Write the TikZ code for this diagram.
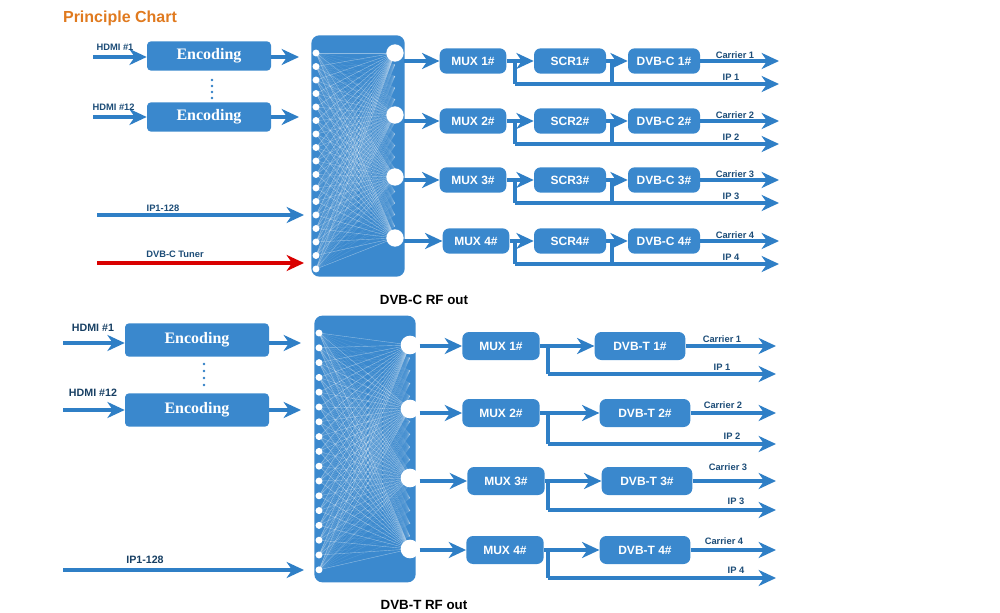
\documentclass[tikz,border=0pt]{standalone}
\usepackage{fontspec}
\setmainfont{Liberation Sans}
\newfontfamily\serifb{Liberation Serif}
\usetikzlibrary{arrows.meta,calc}
\definecolor{bl}{HTML}{2F7FC6}
\definecolor{bx}{HTML}{3A88CD}
\definecolor{mx}{HTML}{3B89CE}
\definecolor{orng}{HTML}{E07A1F}
\begin{document}
\begin{tikzpicture}[x=0.75pt,y=-0.75pt,
 ar/.style={draw=bl,line width=2.4pt,-{Stealth[length=13pt,width=12pt,inset=4pt]}},
 ln/.style={draw=bl,line width=2.4pt},
 box/.style={fill=bx,rounded corners=5pt,text=white,font=\bfseries\small,inner sep=0pt,minimum height=19pt},
 enc/.style={fill=bx,rounded corners=3pt,text=white,font=\serifb\bfseries\large,inner sep=0pt,minimum width=93pt,minimum height=22pt},
 lab/.style={font=\bfseries\scriptsize,text=bl!60!black,inner sep=1pt},
 ilab/.style={font=\bfseries\footnotesize,text=bl!50!black,inner sep=1pt}]
\useasboundingbox (0,0) rectangle (1000,613);
\node[font=\bfseries\large,text=orng] (title) at (120,18) {Principle Chart};
% ---------- top ----------
\node[fill=mx,rounded corners=6pt,minimum width=70pt,minimum height=181pt,inner sep=0pt] (m1) at (358,156) {};
\foreach \i in {0,...,16}{\coordinate (a\i) at (316,{53+\i*13.5});}
\foreach \j/\y in {1/53,2/115,3/177,4/238}{\coordinate (b\j) at (395,\y);}
\foreach \i in {0,...,16}{\foreach \j in {1,...,4}{\draw[white,opacity=0.35,line width=0.3pt] (a\i)--(b\j);}}
\foreach \i in {0,...,16}{\foreach \k in {0,...,16}{\draw[white,opacity=0.12,line width=0.3pt] (a\i)--($(b1)!{\k/16}!(b4)$);}}
\foreach \i in {0,...,16}{\fill[white] (a\i) circle (2.6pt);}
\foreach \j in {1,...,4}{\node[circle,fill=white,minimum size=13pt,inner sep=0pt] (o\j) at (b\j) {};}
\node[enc] (e1) at (209,56) {Encoding};
\node[enc] (e2) at (209,117) {Encoding};
\coordinate (h1) at (93,57); \coordinate (h2) at (93,117);
\draw[ar] (h1)--(h1-|e1.west); \draw[ar] (h2)--(e2.west);
\coordinate (e1o) at (299,57); \coordinate (e2o) at (299,117);
\draw[ar] (e1.east|-e1o)--(e1o); \draw[ar] (e2.east)--(e2o);
\node[lab,above right] at (95,52) {HDMI \#1};
\node[lab,above right] at (91,112) {HDMI \#12};
\foreach \y in {80,86,92,98}{\fill[bl] (212,\y) circle (1pt);}
\coordinate (ip1) at (97,215); \coordinate (ip2) at (304,215);
\draw[ar] (ip1)--(ip2); \node[lab] at (163,208) {IP1-128};
\coordinate (t1) at (97,263); \coordinate (t2) at (304,263);
\draw[draw=red!85!black,line width=2.4pt,-{Stealth[length=13pt,width=12pt,inset=4pt]}] (t1)--(t2);
\node[lab] at (175,254) {DVB-C Tuner};
\foreach \j/\y/\mx in {1/61/473,2/121/473,3/180/473,4/241/476}{
 \node[box,minimum width=50pt] (mux\j) at (\mx,\y) {MUX \j\#};
 \node[box,minimum width=54pt] (scr\j) at (570,\y) {SCR\j\#};
 \node[box,minimum width=54pt] (dvb\j) at (664,\y) {DVB-C \j\#};
 \draw[ar] (o\j.east|-mux\j)--(mux\j.west);
 \draw[ar] (mux\j.east)--(scr\j.west);
 \draw[ar] (scr\j.east)--(dvb\j.west);
 \coordinate (c\j) at (779,\y);
 \draw[ar] (dvb\j.east)--(c\j);
 \coordinate (v\j) at (515,\y); \coordinate (w\j) at (612,\y);
 \coordinate (p\j) at (515,\y+23); \coordinate (q\j) at (612,\y+23); \coordinate (r\j) at (779,\y+23);
 \draw[ln] (v\j)--(p\j); \draw[ln] (w\j)--(q\j);
 \draw[ar] (p\j)--(r\j);
 \node[lab] at (735,\y-6) {Carrier \j};
 \node[lab] at (731,\y+16) {IP \j};
}
\node[font=\bfseries\normalsize] (rf1) at (424,300) {DVB-C RF out};
% ---------- bottom ----------
\node[fill=mx,rounded corners=6pt,minimum width=76pt,minimum height=200pt,inner sep=0pt] (m2) at (365,449) {};
\foreach \i in {0,...,16}{\coordinate (A\i) at (319,{333+\i*14.8});}
\foreach \j/\y in {1/345,2/409,3/478,4/549}{\coordinate (B\j) at (410,\y);}
\foreach \i in {0,...,16}{\foreach \j in {1,...,4}{\draw[white,opacity=0.35,line width=0.3pt] (A\i)--(B\j);}}
\foreach \i in {0,...,16}{\foreach \k in {0,...,16}{\draw[white,opacity=0.12,line width=0.3pt] (A\i)--($(B1)!{\k/16}!(B4)$);}}
\foreach \i in {0,...,16}{\fill[white] (A\i) circle (2.6pt);}
\foreach \j in {1,...,4}{\node[circle,fill=white,minimum size=14pt,inner sep=0pt] (O\j) at (B\j) {};}
\node[enc,minimum width=108pt,minimum height=25pt] (E1) at (197,340) {Encoding};
\node[enc,minimum width=108pt,minimum height=25pt] (E2) at (197,410) {Encoding};
\coordinate (H1) at (63,343); \coordinate (H2) at (63,410);
\draw[ar] (H1)--(H1-|E1.west); \draw[ar] (H2)--(E2.west);
\coordinate (E1o) at (301,343); \coordinate (E2o) at (301,410);
\draw[ar] (E1.east|-E1o)--(E1o); \draw[ar] (E2.east)--(E2o);
\node[ilab] at (93,328) {HDMI \#1};
\node[ilab] at (93,393) {HDMI \#12};
\foreach \y in {364,371,378,385}{\fill[bl] (204,\y) circle (1pt);}
\coordinate (IP1) at (63,570); \coordinate (IP2) at (304,570);
\draw[ar] (IP1)--(IP2); \node[ilab] at (145,560) {IP1-128};
\foreach \j/\y/\mx/\dx/\iy in {1/346/501/640/374,2/413/501/645/444,3/481/506/647/510,4/550/505/645/578}{
 \node[box,minimum width=58pt,minimum height=21pt] (MUX\j) at (\mx,\y) {MUX \j\#};
 \node[box,minimum width=68pt,minimum height=21pt] (DVB\j) at (\dx,\y) {DVB-T \j\#};
 \draw[ar] (O\j.east|-MUX\j)--(MUX\j.west);
 \draw[ar] (MUX\j.east)--(DVB\j.west);
 \coordinate (C\j) at (776,\y);
 \draw[ar] (DVB\j.east)--(C\j);
 \coordinate (V\j) at (548,\y); \coordinate (P\j) at (548,\iy); \coordinate (R\j) at (776,\iy);
 \draw[ln] (V\j)--(P\j); \draw[ar] (P\j)--(R\j);
}
\node[lab] at (722,339) {Carrier 1}; \node[lab] at (722,367) {IP 1};
\node[lab] at (723,405) {Carrier 2}; \node[lab] at (732,436) {IP 2};
\node[lab] at (728,467) {Carrier 3}; \node[lab] at (736,501) {IP 3};
\node[lab] at (724,541) {Carrier 4}; \node[lab] at (736,570) {IP 4};
\node[font=\bfseries\normalsize] (rf2) at (424,605) {DVB-T RF out};
\end{tikzpicture}
\end{document}
